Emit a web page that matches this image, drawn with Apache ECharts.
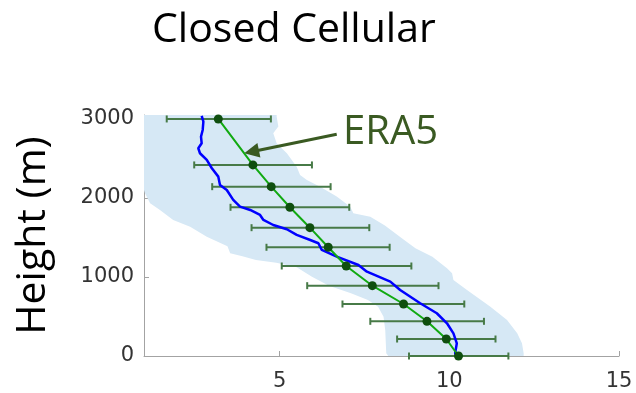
<!DOCTYPE html>
<html>
<head>
<meta charset="utf-8">
<script src="https://cdn.jsdelivr.net/npm/echarts@6/dist/echarts.min.js"></script>
<style>
  html, body { margin: 0; padding: 0; background: #fff; }
  #chart { width: 636px; height: 393px; }
</style>
</head>
<body>
<div id="chart"></div>
<script>
// ERA5 profile: pressure-level heights (m), mean value and spread
const levels   = [0, 215, 439, 658, 890, 1139, 1376, 1624, 1882, 2143, 2418, 3000];
const era5Mean = [10.27, 9.91, 9.34, 8.65, 7.73, 6.96, 6.43, 5.89, 5.30, 4.75, 4.21, 3.19];
const era5Low  = [8.81, 8.46, 7.67, 6.85, 5.81, 5.06, 4.61, 4.17, 3.55, 3.01, 2.48, 1.67];
const era5High = [11.74, 11.36, 11.02, 10.44, 9.68, 8.88, 8.24, 7.64, 7.05, 6.50, 5.95, 4.74];

// Observed mean profile (blue line)
const obsHeight = [0, 34, 161, 287, 414, 541, 667, 835, 941, 1067, 1152, 1257, 1342, 1427, 1468,
  1532, 1604, 1658, 1722, 1785, 1848, 1890, 1975, 2101, 2165, 2270, 2376, 2481, 2566, 2629,
  2692, 2776, 2861, 2966, 3038];
const obsValue  = [10.22, 10.17, 10.22, 10.12, 9.93, 9.63, 9.14, 8.55, 8.26, 7.57, 7.32, 6.68, 6.24, 6.14, 5.90,
  5.50, 5.21, 4.81, 4.52, 4.42, 4.13, 3.83, 3.63, 3.44, 3.24, 3.19, 3.00, 2.85, 2.65, 2.60,
  2.70, 2.68, 2.73, 2.75, 2.70];

// Observed spread envelope: left edge (bottom to top), right edge (top to bottom)
const bandLeftValue   = [8.20, 8.14, 8.11, 8.06, 7.90, 7.60, 7.10, 6.45, 5.95, 5.50, 4.90, 4.30, 3.90, 3.54, 3.46,
  2.85, 2.36, 1.86, 1.47, 1.18, 1.03, 1.00, 1.00];
const bandLeftHeight  = [0, 34, 329, 497, 624, 709, 794, 890, 1004, 1122, 1180, 1215, 1262, 1300, 1390,
  1510, 1637, 1722, 1848, 1933, 2059, 2101, 3050];
const bandRightValue  = [4.91, 4.91, 4.96, 4.81, 4.91, 5.21, 5.50, 5.60, 5.80, 6.19, 6.68, 7.08, 7.17, 7.67,
  8.10, 8.60, 9.00, 9.50, 9.93, 10.08, 10.12, 10.52, 11.21, 11.70, 12.00, 12.14, 12.19, 12.19];
const bandRightHeight = [3050, 3029, 2903, 2819, 2692, 2566, 2396, 2291, 2228, 2143, 2017, 1890, 1806, 1763,
  1650, 1490, 1363, 1257, 1110, 1047, 962, 835, 624, 456, 287, 161, 34, 0];

// Axis ticks
const xTicks = [5, 10, 15];
const yTicks = [0, 1000, 2000, 3000];

// Annotation arrow (data coordinates: tail, head)
const arrowTail = [6.68, 2806];
const arrowHead = [4.17, 2585];

const chart = echarts.init(document.getElementById('chart'), null, { renderer: 'canvas' });

const bandPoints = bandLeftValue.map((v, i) => [v, bandLeftHeight[i]])
  .concat(bandRightValue.map((v, i) => [v, bandRightHeight[i]]));
const errData = levels.map((h, i) => [era5Low[i], era5High[i], h]);
const meanData = levels.map((h, i) => [era5Mean[i], h]);
const obsData = obsHeight.map((h, i) => [obsValue[i], h]);

const axisGray = '#a3a3a3';
const tickFont = { color: '#333', fontFamily: 'DejaVu Sans', fontSize: 21 };
const bigFont = '"Open Sans"';
const annoGreen = '#3a5a22';
const plainNumber = v => String(v);

chart.setOption({
  animation: false,
  grid: { left: 144, right: 17, top: 115, bottom: 37 },
  xAxis: {
    type: 'value', min: 1, max: 15,
    axisLine: { show: true, lineStyle: { color: axisGray, width: 1 } },
    axisTick: { show: true, inside: true, length: 5, customValues: xTicks, lineStyle: { color: axisGray } },
    axisLabel: Object.assign({ customValues: xTicks, margin: 15, formatter: plainNumber }, tickFont),
    splitLine: { show: false }
  },
  yAxis: {
    type: 'value', min: 0, max: 3050,
    name: 'Height (m)', nameLocation: 'middle', nameRotate: 90, nameGap: 90,
    nameTextStyle: { fontFamily: bigFont, fontSize: 41, color: '#000' },
    axisLine: { show: true, lineStyle: { color: axisGray, width: 1 } },
    axisTick: { show: true, inside: true, length: 5, customValues: yTicks, lineStyle: { color: axisGray } },
    axisLabel: Object.assign({ customValues: yTicks, margin: 10, formatter: plainNumber }, tickFont),
    splitLine: { show: false }
  },
  graphic: [
    { type: 'text', left: 152, top: 10, style: { text: 'Closed Cellular', font: '41px ' + bigFont, fill: '#000' } },
    { type: 'text', left: 343, top: 113, style: { text: 'ERA5', font: '40px ' + bigFont, fill: annoGreen } }
  ],
  series: [
    {
      type: 'custom', name: 'spread', z: 1, clip: true,
      data: bandPoints,
      encode: { x: 0, y: 1 },
      renderItem: function (params, api) {
        if (params.dataIndex !== 0) return null;
        const pts = bandPoints.map(p => api.coord(p));
        return { type: 'polygon', shape: { points: pts }, style: { fill: '#d6e8f5', stroke: null } };
      }
    },
    {
      type: 'custom', name: 'ERA5 range', z: 3, clip: false,
      data: errData,
      encode: { x: [0, 1], y: 2 },
      renderItem: function (params, api) {
        const lo = api.coord([api.value(0), api.value(2)]);
        const hi = api.coord([api.value(1), api.value(2)]);
        const cap = 3.5;
        const st = { stroke: '#477a47', lineWidth: 2 };
        return {
          type: 'group',
          children: [
            { type: 'line', shape: { x1: lo[0], y1: lo[1], x2: hi[0], y2: hi[1] }, style: st },
            { type: 'line', shape: { x1: lo[0], y1: lo[1] - cap, x2: lo[0], y2: lo[1] + cap }, style: st },
            { type: 'line', shape: { x1: hi[0], y1: hi[1] - cap, x2: hi[0], y2: hi[1] + cap }, style: st }
          ]
        };
      }
    },
    {
      type: 'line', name: 'Observed', z: 4,
      data: obsData, showSymbol: false, symbol: 'none', smooth: false,
      lineStyle: { color: '#0000ff', width: 2.5 }
    },
    {
      type: 'line', name: 'ERA5', z: 5,
      data: meanData, symbol: 'circle', symbolSize: 9, showSymbol: true,
      itemStyle: { color: '#0f4f0f' },
      lineStyle: { color: '#11aa11', width: 2 },
      markLine: {
        silent: true, symbol: ['none', 'triangle'], symbolSize: [15, 15],
        label: { show: false },
        lineStyle: { color: annoGreen, width: 3, type: 'solid' },
        data: [[{ coord: arrowTail }, { coord: arrowHead }]]
      }
    }
  ]
});
</script>
</body>
</html>
